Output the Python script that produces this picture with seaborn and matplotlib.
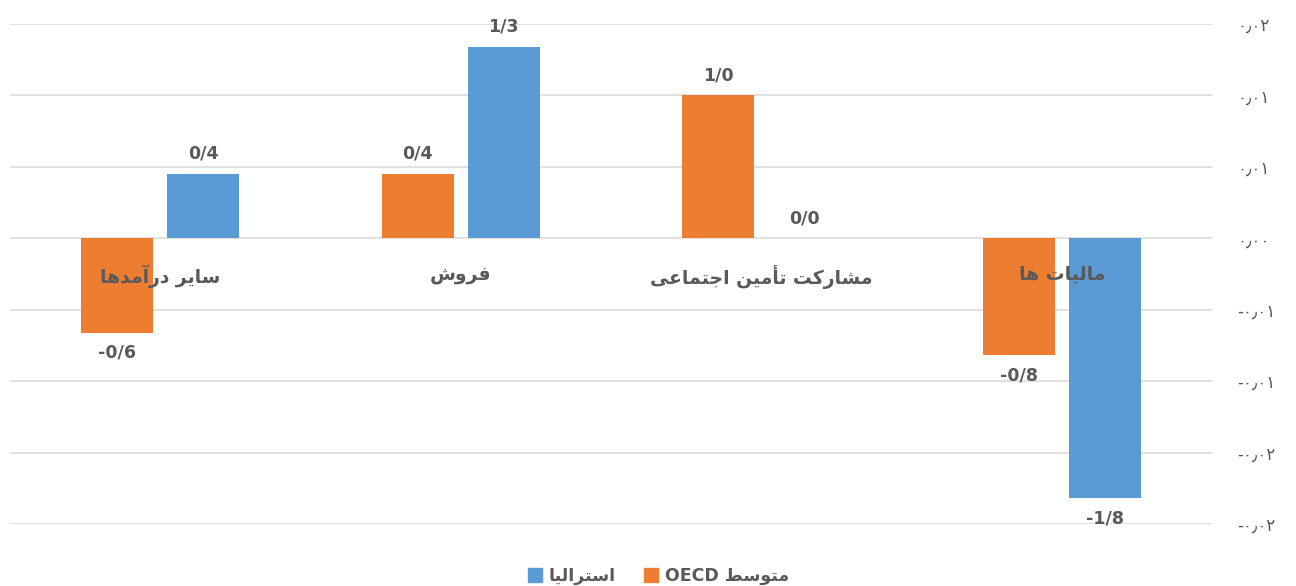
import numpy as np
import pandas as pd
import matplotlib
matplotlib.use("Agg")
import matplotlib.pyplot as plt
from matplotlib.patches import Patch
import seaborn as sns

# chart data (percent of GDP change)
categories = ['سایر درآمدها', 'فروش', 'مشارکت تأمین اجتماعی', 'مالیات ها']
series_names = ['متوسط OECD', 'استرالیا']
oecd_values = [-0.66, 0.45, 1.0, -0.82]
australia_values = [0.45, 1.34, 0.0, -1.82]
ytick_values = [-2.0, -1.5, -1.0, -0.5, 0.0, 0.5, 1.0, 1.5]
ytick_labels = ['-۰٫۰۲', '-۰٫۰۲', '-۰٫۰۱', '-۰٫۰۱', '۰٫۰۰', '۰٫۰۱', '۰٫۰۱', '۰٫۰۲']

ORANGE = '#ED7D31'
BLUE = '#5B9BD5'
TEXT = '#595959'
GRID = '#D9D9D9'

# matplotlib has no arabic shaping, so map letters to presentation forms by hand
FORMS = {
    'ا': '\uFE8D\uFE8E', 'آ': '\uFE81\uFE82', 'أ': '\uFE83\uFE84',
    'د': '\uFEA9\uFEAA', 'ر': '\uFEAD\uFEAE', 'و': '\uFEED\uFEEE',
    'ت': '\uFE95\uFE96\uFE97\uFE98', 'ج': '\uFE9D\uFE9E\uFE9F\uFEA0',
    'س': '\uFEB1\uFEB2\uFEB3\uFEB4', 'ش': '\uFEB5\uFEB6\uFEB7\uFEB8',
    'ط': '\uFEC1\uFEC2\uFEC3\uFEC4', 'ع': '\uFEC9\uFECA\uFECB\uFECC',
    'ف': '\uFED1\uFED2\uFED3\uFED4', 'ل': '\uFEDD\uFEDE\uFEDF\uFEE0',
    'م': '\uFEE1\uFEE2\uFEE3\uFEE4', 'ن': '\uFEE5\uFEE6\uFEE7\uFEE8',
    'ه': '\uFEE9\uFEEA\uFEEB\uFEEC', 'ی': '\uFEEF\uFEF0\uFEF3\uFEF4',
    'ک': '\uFB8E\uFB8F\uFB90\uFB91',
}


def shape_word(word):
    if not any(ch in FORMS for ch in word):
        return word
    out = []
    for i, ch in enumerate(word):
        if ch not in FORMS:
            out.append(ch)
            continue
        prev_joins = i > 0 and len(FORMS.get(word[i - 1], '')) == 4
        next_joins = i < len(word) - 1 and word[i + 1] in FORMS and len(FORMS[ch]) == 4
        idx = 3 if prev_joins and next_joins else 1 if prev_joins else 2 if next_joins else 0
        out.append(FORMS[ch][idx])
    return ''.join(reversed(out))


def rtl(text):
    return ' '.join(shape_word(w) for w in reversed(text.split(' ')))


def bar_text(v):
    # labels in the source are cut to one decimal, with '/' as separator
    return f"{np.trunc(v * 10) / 10:.1f}".replace('.', '/').replace('-0/0', '0/0')


df = pd.DataFrame({
    'category': categories * 2,
    'series': [series_names[0]] * 4 + [series_names[1]] * 4,
    'value': oecd_values + australia_values,
})

sns.set_style('white')
plt.rcParams['font.family'] = ['DejaVu Sans']

fig, ax = plt.subplots(figsize=(12.96, 5.86), dpi=100)
fig.subplots_adjust(left=10 / 1296, right=1212 / 1296, bottom=62 / 586, top=562 / 586)

sns.barplot(data=df, x='category', y='value', hue='series', order=categories,
            hue_order=series_names, palette=[ORANGE, BLUE], saturation=1,
            width=0.573, gap=0.16, errorbar=None, legend=False, linewidth=0, ax=ax)

# category names sit on top of the bars, grid stays behind
ax.set_axisbelow(False)
for y in ytick_values:
    ax.axhline(y, color=GRID, lw=1.1, zorder=0)

for container, vals in zip(ax.containers, [oecd_values, australia_values]):
    ax.bar_label(container, labels=[bar_text(v) for v in vals], padding=8,
                 fontsize=12.5, fontweight='bold', color=TEXT)

ax.set_xlim(-0.5, 3.5)
ax.set_ylim(-2.0, 1.5)
ax.set_xticks(range(len(categories)), [rtl(c) for c in categories])
ax.spines['bottom'].set_position(('data', 0))
ax.tick_params(axis='x', length=0, pad=19, labelsize=13.5, labelcolor=TEXT)
for lab in ax.get_xticklabels():
    lab.set_fontweight('bold')

ax.yaxis.tick_right()
ax.set_yticks(ytick_values, ytick_labels)
ax.tick_params(axis='y', length=0, pad=18, labelsize=12, labelcolor=TEXT)
ax.set_xlabel('')
ax.set_ylabel('')
for s in ax.spines.values():
    s.set_visible(False)

handles = [Patch(color=BLUE), Patch(color=ORANGE)]
fig.legend(handles, [rtl(series_names[1]), rtl(series_names[0])], loc='lower center',
           bbox_to_anchor=(0.508, -0.025), ncol=2, frameon=False, handlelength=0.8,
           handleheight=0.8, handletextpad=0.4, columnspacing=1.6,
           prop={'size': 12.5, 'weight': 'bold'}, labelcolor=TEXT)

fig.savefig('out.png', dpi=100)
